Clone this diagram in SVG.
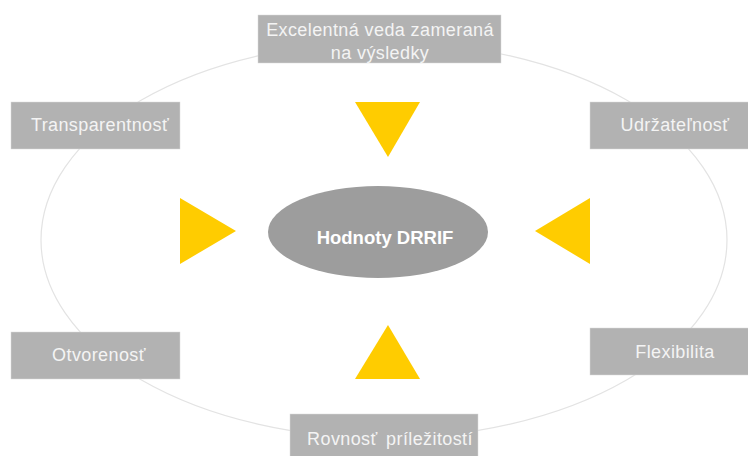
<svg xmlns="http://www.w3.org/2000/svg" width="748" height="456" viewBox="0 0 748 456">
<style>
.box{fill:#b2b2b2;stroke:#d9d9d9;stroke-width:0.5}
.lbl{font-family:"Liberation Sans",Arial,sans-serif;font-size:18px;letter-spacing:0.4px;fill:#f4f4f4;text-anchor:middle}
.tri{fill:#ffcc00}
</style>
<rect width="748" height="456" fill="#ffffff"/>
<g id="connectors">
<ellipse cx="384" cy="240" rx="343" ry="198" fill="none" stroke="#e3e3e3" stroke-width="1.2"/>
<polygon class="tri" points="355,102 420,102 388,157"/>
<polygon class="tri" points="180,198 180,264 236,231"/>
<polygon class="tri" points="590,198 590,264 535,231"/>
<polygon class="tri" points="355,379 420,379 388,325"/>
</g>
<g id="center">
<ellipse cx="378" cy="232" rx="110" ry="46" fill="#9d9d9d"/>
<text class="lbl" x="385" y="244" style="font-weight:bold;fill:#ffffff;font-size:18.5px;letter-spacing:0">Hodnoty DRRIF</text>
</g>
<g id="excelentna">
<rect class="box" x="258" y="15" width="243" height="48"/>
<text class="lbl" x="380" y="36">Excelentná veda zameraná</text>
<text class="lbl" x="380" y="59">na výsledky</text>
</g>
<g id="transparentnost">
<rect class="box" x="11" y="102" width="169" height="47"/>
<text class="lbl" x="100" y="131">Transparentnosť</text>
</g>
<g id="udrzatelnost">
<rect class="box" x="590" y="102" width="160" height="47"/>
<text class="lbl" x="675" y="131">Udržateľnosť</text>
</g>
<g id="otvorenost">
<rect class="box" x="11" y="332" width="169" height="47"/>
<text class="lbl" x="99" y="361">Otvorenosť</text>
</g>
<g id="flexibilita">
<rect class="box" x="590" y="328" width="160" height="47"/>
<text class="lbl" x="675" y="358">Flexibilita</text>
</g>
<g id="rovnost">
<rect class="box" x="290" y="414" width="188" height="46"/>
<text class="lbl" x="390" y="445" word-spacing="3">Rovnosť príležitostí</text>
</g>
</svg>
